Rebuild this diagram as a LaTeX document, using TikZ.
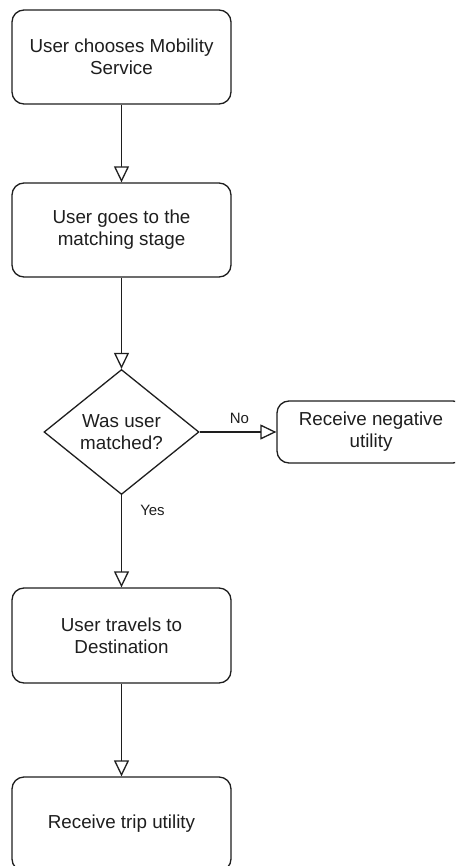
\documentclass[tikz,border=0pt]{standalone}
\usepackage{fontspec}
\setmainfont{Liberation Sans}
\usetikzlibrary{shapes.geometric,arrows.meta}
\definecolor{ink}{HTML}{1E1E1E}
\tikzset{
  x=1pt, y=-1pt,
  every node/.style={text=ink},
  stepbox/.style={draw=ink, line width=1.3pt, rounded corners=12pt, fill=white,
    align=center, inner sep=0pt, minimum width=219pt,
    font=\fontsize{18.8}{22}\selectfont},
  decision/.style={draw=ink, line width=1.3pt, diamond, fill=white, align=center,
    inner sep=0pt, minimum width=155pt, minimum height=125pt,
    font=\fontsize{18.8}{22}\selectfont},
  flow/.style={draw=ink, line width=1.3pt,
    -{Triangle[length=16pt, width=15pt, fill=white]}},
  edgelabel/.style={font=\fontsize{15}{17}\selectfont, inner sep=0pt},
}
\begin{document}
\begin{tikzpicture}
  \useasboundingbox (0,0) rectangle (455,866);
  \clip (0,0) rectangle (455,866);

  % process steps
  \node[stepbox, minimum height=94pt] (choose) at (121.5,57)
    {User chooses Mobility\\Service};
  \node[stepbox, minimum height=94pt] (match) at (121.5,230)
    {User goes to the\\matching stage};
  \node[decision] (matched) at (121.5,432) {Was user\\matched?};
  \node[stepbox, minimum width=188pt, minimum height=62pt] (negative) at (371,432)
    {Receive negative\\utility};
  \node[stepbox, minimum height=95pt] (travel) at (121.5,635.5)
    {User travels to\\Destination};
  \node[stepbox, minimum height=94pt] (trip) at (121.5,824)
    {Receive trip utility};

  % connectors
  \draw[flow] (choose) -- (match);
  \draw[flow] (match) -- (matched);
  \draw[flow] (matched) -- (negative);
  \draw[flow] (matched) -- (travel);
  \draw[flow] (travel) -- (trip);

  % branch labels
  \node[edgelabel] (nolabel) at (239.5,418.5) {No};
  \node[edgelabel] (yeslabel) at (152.5,510.5) {Yes};
\end{tikzpicture}
\end{document}
